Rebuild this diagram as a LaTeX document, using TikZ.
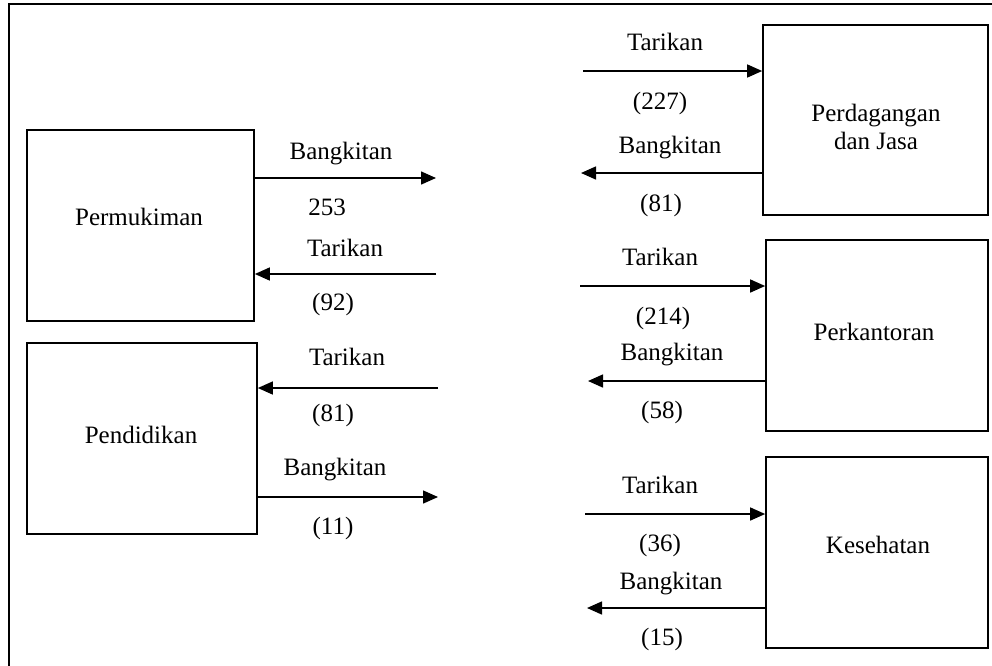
\documentclass[tikz,border=0pt]{standalone}
\usepackage{fontspec}
\setmainfont{Liberation Serif}
\usetikzlibrary{arrows.meta}
\begin{document}
\begin{tikzpicture}[x=1pt,y=-1pt,
  landuse/.style={draw,line width=1.7pt,rectangle,inner sep=0pt},
  flow/.style={line width=1.5pt,-{Triangle[length=15pt,width=13pt]}},
  lbl/.style={anchor=base,inner sep=0pt,font=\fontsize{25}{29}\selectfont}]
\useasboundingbox (0,0) rectangle (992,665);
% outer frame, running past the page on the right and bottom
\begin{scope}
  \clip (0,0) rectangle (992,665);
  \draw[line width=2.2pt] (9,700) -- (9,4) -- (1010,4);
\end{scope}

% land-use boxes
\node[landuse,minimum width=227pt,minimum height=191pt] (perm) at (140.5,225.5) {};
\node[landuse,minimum width=230pt,minimum height=191pt] (pend) at (142,438.5) {};
\node[landuse,minimum width=225pt,minimum height=190pt] (perd) at (875.5,120) {};
\node[landuse,minimum width=222pt,minimum height=191pt] (kant) at (877,335.5) {};
\node[landuse,minimum width=222pt,minimum height=191pt] (kes) at (877,552.5) {};

\node[lbl] (tperm) at (139,225) {Permukiman};
\node[lbl] (tpend) at (141,443) {Pendidikan};
\node[lbl] (tperd1) at (876,121) {Perdagangan};
\node[lbl] (tperd2) at (876,149) {dan Jasa};
\node[lbl] (tkant) at (874,340) {Perkantoran};
\node[lbl] (tkes) at (878,553) {Kesehatan};

% free ends of the flow arrows
\coordinate (a1) at (436,178);
\coordinate (a2) at (436,274);
\coordinate (a3) at (438,388);
\coordinate (a4) at (438,497);
\coordinate (b1) at (583,71);
\coordinate (b2) at (581,173);
\coordinate (b3) at (580,286);
\coordinate (b4) at (588,381);
\coordinate (b5) at (585,514);
\coordinate (b6) at (587,608);

% Permukiman
\draw[flow] (perm.east |- a1) -- (a1);
\draw[flow] (a2) -- (perm.east |- a2);
\node[lbl] (l1) at (341,159) {Bangkitan};
\node[lbl] (n1) at (327,215) {253};
\node[lbl] (l2) at (345,256) {Tarikan};
\node[lbl] (n2) at (333,310) {(92)};

% Pendidikan
\draw[flow] (a3) -- (pend.east |- a3);
\draw[flow] (pend.east |- a4) -- (a4);
\node[lbl] (l3) at (347,365) {Tarikan};
\node[lbl] (n3) at (333,421) {(81)};
\node[lbl] (l4) at (335,475) {Bangkitan};
\node[lbl] (n4) at (333,534) {(11)};

% Perdagangan dan Jasa
\draw[flow] (b1) -- (perd.west |- b1);
\draw[flow] (perd.west |- b2) -- (b2);
\node[lbl] (l5) at (665,50) {Tarikan};
\node[lbl] (n5) at (660,109) {(227)};
\node[lbl] (l6) at (670,153) {Bangkitan};
\node[lbl] (n6) at (661,211) {(81)};

% Perkantoran
\draw[flow] (b3) -- (kant.west |- b3);
\draw[flow] (kant.west |- b4) -- (b4);
\node[lbl] (l7) at (660,265) {Tarikan};
\node[lbl] (n7) at (663,324) {(214)};
\node[lbl] (l8) at (672,360) {Bangkitan};
\node[lbl] (n8) at (662,418) {(58)};

% Kesehatan
\draw[flow] (b5) -- (kes.west |- b5);
\draw[flow] (kes.west |- b6) -- (b6);
\node[lbl] (l9) at (660,493) {Tarikan};
\node[lbl] (n9) at (660,551) {(36)};
\node[lbl] (l10) at (671,589) {Bangkitan};
\node[lbl] (n10) at (662,645) {(15)};
\end{tikzpicture}
\end{document}
